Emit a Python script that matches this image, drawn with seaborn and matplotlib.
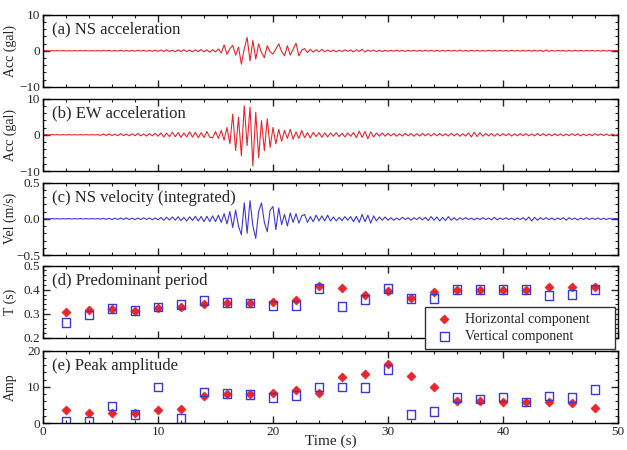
import numpy as np
import pandas as pd
import matplotlib
matplotlib.use('Agg')
import matplotlib.pyplot as plt
import seaborn as sns
from matplotlib.ticker import MultipleLocator, AutoMinorLocator

# sampled records, 0.25 s step from 0 to 50 s
dt = 0.25
acc_ns = [
    0.0, 0.05, -0.05, 0.03, -0.04, 0.05, -0.03, 0.04, -0.05, 0.03, -0.04, 0.05, -0.05, 0.04, -0.03, 0.05, -0.04, 0.03, -0.05, 0.04,
    -0.08, 0.1, -0.06, 0.09, -0.1, 0.07, -0.08, 0.12, -0.09, 0.1, -0.12, 0.08, -0.1, 0.13, -0.09, 0.11, -0.14, 0.1, -0.12, 0.15,
    -0.15, 0.2, -0.18, 0.25, -0.2, 0.15, -0.28, 0.22, -0.2, 0.3, -0.25, 0.18, -0.3, 0.28, -0.22, 0.35, -0.3, 0.25, -0.4, 0.3,
    -0.3, 0.5, -0.6, 1.6, -1.0, 0.6, 1.5, -1.2, 1.0, -3.7, 0.5, 3.7, -2.8, 2.8, -2.3, 1.9, -0.5, -1.9, 1.4, -0.3,
    -0.9, 0.5, 1.9, -0.2, -1.4, 1.4, -1.2, 0.4, 2.1, -1.4, 0.2, 0.6, -0.5, 0.4, -0.4, 0.3, -0.3, 0.4, -0.3, 0.2,
    -0.25, 0.2, -0.3, 0.15, -0.2, 0.25, -0.15, 0.2, -0.3, 0.25, -0.2, 0.4, -0.35, 0.2, -0.15, 0.2, -0.25, 0.15, -0.2, 0.15,
    -0.15, 0.12, -0.1, 0.15, -0.12, 0.1, -0.15, 0.12, -0.1, 0.14, -0.12, 0.1, -0.13, 0.15, -0.1, 0.12, -0.14, 0.1, -0.12, 0.1,
    -0.1, 0.12, -0.08, 0.1, -0.12, 0.15, -0.1, 0.08, -0.12, 0.1, -0.08, 0.12, -0.1, 0.08, -0.1, 0.12, -0.09, 0.1, -0.08, 0.1,
    -0.1, 0.08, -0.1, 0.12, -0.08, 0.1, -0.12, 0.1, -0.08, 0.1, -0.12, 0.15, -0.1, 0.12, -0.2, 0.22, -0.15, 0.1, -0.12, 0.1,
    -0.08, 0.1, -0.12, 0.08, -0.1, 0.12, -0.08, 0.1, -0.1, 0.08, -0.06, 0.1, -0.08, 0.06, -0.1, 0.08, -0.06, 0.08, -0.05, 0.06,
    0.0]
acc_ew = [
    0.0, 0.05, -0.05, 0.06, -0.04, 0.05, -0.06, 0.04, -0.05, 0.06, -0.05, 0.04, -0.06, 0.05, -0.04, 0.06, -0.05, 0.04, -0.06, 0.05,
    -0.15, 0.2, -0.18, 0.25, -0.2, 0.18, -0.25, 0.3, -0.22, 0.2, -0.3, 0.28, -0.25, 0.35, -0.3, 0.25, -0.35, 0.3, -0.28, 0.4,
    -0.4, 0.5, -0.6, 0.45, -0.5, 0.7, -0.55, 0.6, -0.7, 0.5, -0.6, 0.8, -0.65, 0.7, -0.8, 0.6, -0.75, 0.9, -0.7, -0.8,
    0.9, -1.0, 1.2, -1.5, 2.0, -2.5, 5.7, -4.4, 4.8, -5.8, 8.0, -3.0, 7.6, -8.6, 6.2, -6.3, 3.9, -4.4, 4.4, -3.5,
    2.0, -2.5, 1.5, -1.8, 1.2, -1.0, 1.5, -1.2, 0.8, -1.0, 1.2, -0.8, 0.6, -0.9, 0.7, -0.5, 0.6, -0.7, 0.5, -0.6,
    0.5, -0.4, 0.6, -0.5, 0.4, -0.6, 0.5, -0.4, 0.6, -0.8, 1.0, -0.7, 0.9, -1.1, 0.8, -0.6, 0.5, -0.4, 0.5, -0.4,
    0.4, -0.3, 0.35, -0.4, 0.3, -0.35, 0.4, -0.3, 0.35, -0.4, 0.3, -0.35, 0.4, -0.3, 0.3, -0.35, 0.4, -0.3, 0.35, -0.3,
    0.3, -0.35, 0.4, -0.3, 0.35, -0.4, 0.3, -0.35, 0.5, -0.6, 0.7, -0.5, 0.6, -0.4, 0.35, -0.3, 0.35, -0.4, 0.3, -0.3,
    0.3, -0.25, 0.3, -0.35, 0.25, -0.3, 0.3, -0.25, 0.3, -0.3, 0.25, -0.3, 0.35, -0.25, 0.3, -0.3, 0.25, -0.3, 0.3, -0.25,
    0.25, -0.3, 0.2, -0.25, 0.3, -0.2, 0.25, -0.3, 0.2, -0.25, 0.2, -0.25, 0.3, -0.2, 0.25, -0.2, 0.2, -0.25, 0.2, -0.15,
    0.0]
vel_ns = [
    0.0, 0.002, -0.002, 0.003, -0.002, 0.002, -0.003, 0.002, -0.002, 0.003, -0.003, 0.002, -0.002, 0.003, -0.002, 0.002, -0.003, 0.002, -0.002, 0.003,
    -0.005, 0.006, -0.008, 0.007, -0.01, 0.008, -0.009, 0.01, -0.008, 0.012, -0.01, 0.009, -0.012, 0.01, -0.011, 0.013, -0.01, 0.012, -0.014, 0.012,
    -0.015, 0.018, -0.02, 0.022, -0.018, 0.025, -0.02, 0.028, -0.025, 0.02, -0.03, 0.028, -0.025, 0.035, -0.03, 0.032, -0.04, 0.035, -0.038, 0.04,
    -0.04, 0.05, -0.05, 0.07, -0.07, 0.1, -0.12, 0.12, -0.1, -0.22, 0.22, -0.2, 0.25, -0.1, -0.27, 0.1, 0.22, -0.05, -0.18, 0.12,
    0.17, -0.15, 0.15, -0.08, 0.06, -0.1, 0.08, -0.05, 0.07, -0.06, 0.04, 0.06, -0.05, 0.03, -0.04, 0.05, -0.03, 0.04, -0.03, 0.05,
    -0.03, 0.025, -0.03, 0.02, -0.025, 0.03, -0.02, 0.03, -0.04, 0.035, -0.05, 0.06, -0.04, 0.05, -0.06, 0.04, -0.03, 0.025, -0.02, 0.025,
    -0.02, 0.015, -0.02, 0.01, -0.015, 0.02, -0.01, 0.015, -0.02, 0.015, -0.01, 0.02, -0.015, 0.02, -0.025, 0.03, -0.02, 0.025, -0.03, 0.02,
    -0.025, 0.03, -0.02, 0.015, -0.02, 0.015, -0.01, 0.015, -0.01, 0.01, -0.015, 0.01, -0.01, 0.015, -0.01, 0.01, -0.015, 0.02, -0.015, 0.01,
    -0.01, 0.015, -0.01, 0.01, -0.015, 0.01, -0.01, 0.015, -0.02, 0.025, -0.03, 0.02, -0.02, 0.015, -0.01, 0.015, -0.01, 0.01, -0.015, 0.01,
    -0.01, 0.015, -0.02, 0.015, -0.01, 0.01, -0.015, 0.01, -0.01, 0.015, -0.01, 0.01, -0.008, 0.01, -0.01, 0.008, -0.01, 0.008, -0.005, 0.005,
    0.0]

# windowed results
win_t = [2, 4, 6, 8, 10, 12, 14, 16, 18, 20, 22, 24, 26, 28, 30, 32, 34, 36, 38, 40, 42, 44, 46, 48]
period_h = [0.309, 0.314, 0.319, 0.313, 0.325, 0.33, 0.34, 0.345, 0.345, 0.351, 0.359, 0.415,
            0.406, 0.376, 0.393, 0.364, 0.391, 0.40, 0.40, 0.40, 0.40, 0.41, 0.41, 0.41]
period_v = [0.263, 0.296, 0.321, 0.315, 0.328, 0.338, 0.355, 0.347, 0.345, 0.335, 0.335, 0.406,
            0.33, 0.36, 0.406, 0.364, 0.364, 0.40, 0.40, 0.40, 0.40, 0.375, 0.379, 0.40]
amp_h = [3.6, 2.7, 2.7, 2.8, 3.6, 4.0, 7.4, 8.0, 7.9, 8.3, 9.0, 8.2,
         12.6, 13.4, 16.4, 12.9, 9.8, 6.1, 6.1, 5.8, 5.8, 5.8, 5.4, 4.2]
amp_v = [0.5, 0.5, 4.7, 2.3, 9.9, 1.3, 8.5, 8.1, 7.8, 7.1, 7.6, 9.9,
         9.9, 9.8, 14.8, 2.4, 3.2, 7.0, 6.6, 7.2, 5.8, 7.5, 7.0, 9.2]

panel_titles = ['(a) NS acceleration', '(b) EW acceleration', '(c) NS velocity (integrated)',
                '(d) Predominant period', '(e) Peak amplitude']
y_labels = ['Acc (gal)', 'Acc (gal)', 'Vel (m/s)', 'T (s)', 'Amp']
legend_labels = ['Horizontal component', 'Vertical component']

red = '#e8262b'
blue = '#3b3bd0'

sns.set_style('ticks')
plt.rcParams['font.family'] = ['Liberation Serif', 'DejaVu Serif']
plt.rcParams['font.size'] = 10


def style_axis(ax, ymaj, ylim, bottom=False):
    ax.set_xlim(0, 50)
    ax.set_ylim(*ylim)
    ax.xaxis.set_major_locator(MultipleLocator(10))
    ax.xaxis.set_minor_locator(MultipleLocator(2))
    ax.yaxis.set_major_locator(MultipleLocator(ymaj))
    ax.yaxis.set_minor_locator(AutoMinorLocator())
    ax.tick_params(which='both', direction='in', top=True, right=True, labelsize=9.5, pad=2)
    ax.tick_params(which='major', length=5, width=1)
    ax.tick_params(which='minor', length=2.5, width=0.8)
    for s in ax.spines.values():
        s.set_linewidth(1)
        s.set_color('black')
    if not bottom:
        ax.tick_params(labelbottom=False)
    ax.set_xlabel('')
    ax.yaxis.set_label_coords(-0.046, 0.5)


fig = plt.figure(figsize=(6.27, 4.5), dpi=100)
bottoms = [0.8067, 0.62, 0.4333, 0.2489, 0.06]
axes = [fig.add_axes([0.0686, b, 0.917, 0.161]) for b in bottoms]

time = np.arange(len(acc_ns)) * dt
traces = pd.DataFrame({'t': time, 'ns': acc_ns, 'ew': acc_ew, 'vel': vel_ns})

sns.lineplot(x='t', y='ns', data=traces, color=red, linewidth=0.8, estimator=None, ax=axes[0])
sns.lineplot(x='t', y='ew', data=traces, color=red, linewidth=0.8, estimator=None, ax=axes[1])
sns.lineplot(x='t', y='vel', data=traces, color=blue, linewidth=0.8, estimator=None, ax=axes[2])

win = pd.DataFrame({'t': win_t, 'ph': period_h, 'pv': period_v, 'ah': amp_h, 'av': amp_v})
sns.scatterplot(x='t', y='ph', data=win, marker='D', s=22, color=red, edgecolor=red, label=legend_labels[0], ax=axes[3])
sns.scatterplot(x='t', y='pv', data=win, marker='s', s=38, color=blue, facecolor='none', edgecolor=blue,
                linewidth=1, label=legend_labels[1], ax=axes[3])
sns.scatterplot(x='t', y='ah', data=win, marker='D', s=22, color=red, edgecolor=red, legend=False, ax=axes[4])
sns.scatterplot(x='t', y='av', data=win, marker='s', s=38, color=blue, facecolor='none', edgecolor=blue,
                linewidth=1, legend=False, ax=axes[4])

style_axis(axes[0], 10, (-10, 10))
style_axis(axes[1], 10, (-10, 10))
style_axis(axes[2], 0.5, (-0.5, 0.5))
style_axis(axes[3], 0.1, (0.2, 0.5))
style_axis(axes[4], 10, (0, 20), bottom=True)

for ax, title, yl in zip(axes, panel_titles, y_labels):
    ax.text(0.016, 0.9, title, transform=ax.transAxes, ha='left', va='top', fontsize=12)
    ax.set_ylabel(yl, fontsize=10)

leg = axes[3].legend(loc='upper left', bbox_to_anchor=(0.664, -0.1, 0.331, 0.523), mode='expand',
                     borderaxespad=0, fancybox=False, edgecolor='#333333', framealpha=1,
                     fontsize=10, handletextpad=0.5, borderpad=0.4, labelspacing=0.3)
leg.get_frame().set_linewidth(1)

axes[4].set_xlabel('Time (s)', fontsize=11)
axes[4].xaxis.set_label_coords(0.5, -0.155)

fig.savefig('out.png', dpi=100)
